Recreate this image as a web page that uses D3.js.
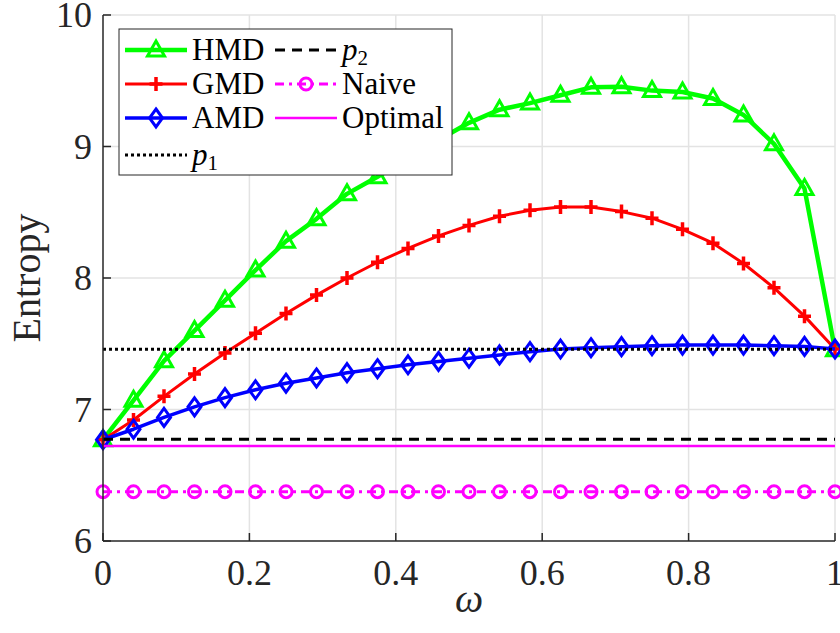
<!DOCTYPE html>
<html>
<head>
<meta charset="utf-8">
<script src="https://cdn.jsdelivr.net/npm/d3@7"></script>
<style>
  body { margin: 0; background: #fff; }
  svg { display: block; }
  text { font-family: "Liberation Serif", "DejaVu Serif", serif; }
</style>
</head>
<body>
<main></main>
<script>
// omega sampled on 25 points between 0 and 1
const omega = d3.range(25).map(i => i / 24)

const hmd = [6.77, 7.07, 7.37, 7.60, 7.83, 8.06, 8.28, 8.45, 8.64, 8.77, 8.91, 9.05, 9.18,
  9.28, 9.33, 9.39, 9.45, 9.455, 9.425, 9.415, 9.365, 9.24, 9.02, 8.68, 7.455]
const gmd = [6.77, 6.92, 7.10, 7.27, 7.43, 7.58, 7.73, 7.87, 8.00, 8.12, 8.225, 8.32, 8.40,
  8.47, 8.515, 8.54, 8.54, 8.505, 8.455, 8.37, 8.265, 8.11, 7.925, 7.71, 7.46]
const amd = [6.77, 6.85, 6.94, 7.02, 7.09, 7.15, 7.20, 7.24, 7.28, 7.31, 7.34, 7.365, 7.39,
  7.415, 7.44, 7.46, 7.47, 7.478, 7.485, 7.49, 7.49, 7.49, 7.485, 7.48, 7.46]
const p1 = 7.458
const p2 = 6.773
const naive = 6.375
const optimal = 6.722

const xTicks = [0, 0.2, 0.4, 0.6, 0.8, 1]
const yTicks = [6, 7, 8, 9, 10]

const width = 840
const height = 633
const margin = { left: 103, right: 5, top: 15, bottom: 92 }
const serif = '"Liberation Serif", "DejaVu Serif", serif'

const x = d3.scaleLinear().domain([0, 1]).range([margin.left, width - margin.right])
const y = d3.scaleLinear().domain([6, 10]).range([height - margin.bottom, margin.top])

const svg = d3.select('main')
  .append('svg')
  .attr('width', width)
  .attr('height', height)
  .attr('font-family', serif)

// grid
svg.append('g')
  .selectAll('line')
  .data(xTicks.slice(1))
  .enter()
  .append('line')
  .attr('x1', d => x(d))
  .attr('x2', d => x(d))
  .attr('y1', y(6))
  .attr('y2', y(10))
  .style('stroke', '#e3e3e3')
  .style('stroke-width', '1.5px')
svg.append('g')
  .selectAll('line')
  .data(yTicks.slice(1))
  .enter()
  .append('line')
  .attr('x1', x(0))
  .attr('x2', x(1))
  .attr('y1', d => y(d))
  .attr('y2', d => y(d))
  .style('stroke', '#e3e3e3')
  .style('stroke-width', '1.5px')

// marker shapes
const triangle = 'M0,-9L8.5,6L-8.5,6Z'
const diamond = 'M0,-9L6.5,0L0,9L-6.5,0Z'
const plus = 'M-6.5,0H6.5M0,-7V7'

const series = [
  { name: 'HMD', values: hmd, color: '#00ff00', width: 4.5, marker: triangle, mw: 3 },
  { name: 'GMD', values: gmd, color: '#ff0000', width: 3, marker: plus, mw: 3.5 },
  { name: 'AMD', values: amd, color: '#0000ff', width: 3.5, marker: diamond, mw: 3 }
]

const line = d3.line()
  .x((d, i) => x(omega[i]))
  .y(d => y(d))

const plot = svg.append('g')

series.forEach(s => {
  plot.append('path')
    .datum(s.values)
    .attr('d', line)
    .style('fill', 'none')
    .style('stroke', s.color)
    .style('stroke-width', s.width + 'px')
    .style('stroke-linejoin', 'round')
  plot.append('g')
    .selectAll('path')
    .data(s.values)
    .enter()
    .append('path')
    .attr('d', s.marker)
    .attr('transform', (d, i) => 'translate(' + x(omega[i]) + ',' + y(d) + ')')
    .style('fill', 'none')
    .style('stroke', s.color)
    .style('stroke-width', s.mw + 'px')
})

// constant reference levels
function hline (v, color, dash, w) {
  plot.append('line')
    .attr('x1', x(0))
    .attr('x2', x(1))
    .attr('y1', y(v))
    .attr('y2', y(v))
    .style('stroke', color)
    .style('stroke-width', w + 'px')
    .style('stroke-dasharray', dash)
}
hline(p1, '#000', '3,3', 3)
hline(p2, '#000', '10,7', 3)
hline(naive, '#ff00ff', '9,5,3,5', 3)
plot.append('g')
  .selectAll('circle')
  .data(omega)
  .enter()
  .append('circle')
  .attr('cx', d => x(d))
  .attr('cy', y(naive))
  .attr('r', 6)
  .style('fill', 'none')
  .style('stroke', '#ff00ff')
  .style('stroke-width', '3px')
hline(optimal, '#ff00ff', null, 2.5)

// axes
svg.append('line')
  .attr('x1', x(0)).attr('x2', x(0))
  .attr('y1', y(6)).attr('y2', y(10))
  .style('stroke', '#262626').style('stroke-width', '1.5px')
svg.append('line')
  .attr('x1', x(0)).attr('x2', x(1))
  .attr('y1', y(6)).attr('y2', y(6))
  .style('stroke', '#262626').style('stroke-width', '1.5px')

svg.append('g')
  .selectAll('line')
  .data(xTicks)
  .enter()
  .append('line')
  .attr('x1', d => x(d)).attr('x2', d => x(d))
  .attr('y1', y(6)).attr('y2', y(6) - 8)
  .style('stroke', '#262626').style('stroke-width', '1.5px')
svg.append('g')
  .selectAll('line')
  .data(yTicks)
  .enter()
  .append('line')
  .attr('x1', x(0)).attr('x2', x(0) + 8)
  .attr('y1', d => y(d)).attr('y2', d => y(d))
  .style('stroke', '#262626').style('stroke-width', '1.5px')

svg.append('g')
  .selectAll('text')
  .data(xTicks)
  .enter()
  .append('text')
  .attr('x', d => x(d))
  .attr('y', y(6) + 44)
  .attr('text-anchor', 'middle')
  .style('font-family', serif)
  .style('font-size', '36px')
  .style('fill', '#262626')
  .text(d => d)
svg.append('g')
  .selectAll('text')
  .data(yTicks)
  .enter()
  .append('text')
  .attr('x', x(0) - 11)
  .attr('y', d => y(d) + 12)
  .attr('text-anchor', 'end')
  .style('font-family', serif)
  .style('font-size', '36px')
  .style('fill', '#262626')
  .text(d => d)

svg.append('text')
  .attr('transform', 'translate(40,' + ((y(6) + y(10)) / 2) + ') rotate(-90)')
  .attr('text-anchor', 'middle')
  .style('font-family', serif)
  .style('font-size', '40px')
  .style('fill', '#262626')
  .text('Entropy')
svg.append('text')
  .attr('x', (x(0) + x(1)) / 2)
  .attr('y', 612)
  .attr('text-anchor', 'middle')
  .style('font-family', serif)
  .style('font-size', '40px')
  .style('font-style', 'italic')
  .style('fill', '#262626')
  .text('ω')

// legend
const legend = svg.append('g')
legend.append('rect')
  .attr('x', 119)
  .attr('y', 29)
  .attr('width', 333)
  .attr('height', 146)
  .style('fill', '#fff')
  .style('stroke', '#262626')
  .style('stroke-width', '1px')

const entries = [
  { label: 'HMD', col: 0, row: 0, color: '#00ff00', dash: null, w: 4.5, marker: triangle, mw: 3 },
  { label: 'GMD', col: 0, row: 1, color: '#ff0000', dash: null, w: 3, marker: plus, mw: 3.5 },
  { label: 'AMD', col: 0, row: 2, color: '#0000ff', dash: null, w: 3.5, marker: diamond, mw: 3 },
  { label: 'p', sub: '1', col: 0, row: 3, color: '#000', dash: '3,3', w: 3 },
  { label: 'p', sub: '2', col: 1, row: 0, color: '#000', dash: '10,7', w: 3 },
  { label: 'Naive', col: 1, row: 1, color: '#ff00ff', dash: '9,5,3,5', w: 3, circle: true },
  { label: 'Optimal', col: 1, row: 2, color: '#ff00ff', dash: null, w: 2.5 }
]
const rowY = [50, 84, 118, 155]
const colX = [125, 275]

entries.forEach(e => {
  const ly = rowY[e.row]
  const lx = colX[e.col]
  legend.append('line')
    .attr('x1', lx).attr('x2', lx + 62)
    .attr('y1', ly).attr('y2', ly)
    .style('stroke', e.color)
    .style('stroke-width', e.w + 'px')
    .style('stroke-dasharray', e.dash)
  if (e.marker) {
    legend.append('path')
      .attr('d', e.marker)
      .attr('transform', 'translate(' + (lx + 31) + ',' + ly + ')')
      .style('fill', 'none')
      .style('stroke', e.color)
      .style('stroke-width', e.mw + 'px')
  }
  if (e.circle) {
    legend.append('circle')
      .attr('cx', lx + 31).attr('cy', ly).attr('r', 6)
      .style('fill', 'none')
      .style('stroke', e.color)
      .style('stroke-width', '3px')
  }
  const t = legend.append('text')
    .attr('x', lx + 67)
    .attr('y', ly + 10)
    .style('font-family', serif)
    .style('font-size', '31px')
    .style('fill', '#000')
  if (e.sub) {
    t.append('tspan').style('font-style', 'italic').text(e.label)
    t.append('tspan').attr('dy', 5).style('font-size', '21px').text(e.sub)
  } else {
    t.text(e.label)
  }
})
</script>
</body>
</html>
